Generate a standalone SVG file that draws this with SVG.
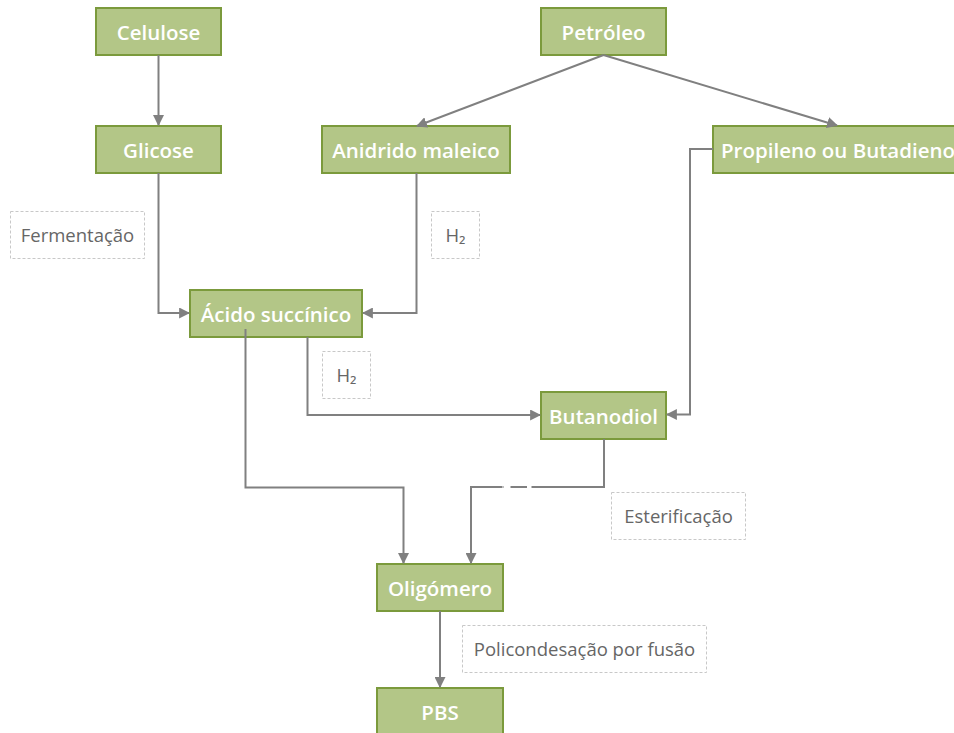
<svg xmlns="http://www.w3.org/2000/svg" width="954" height="733" viewBox="0 0 954 733">
<style>
.node rect{fill:#b3c687;stroke:#7b9a3c;stroke-width:2}
.node text{fill:#ffffff;font-family:"Open Sans","Noto Sans",sans-serif;font-weight:600;font-size:20.5px;text-anchor:middle}
.lbl rect{fill:#ffffff;stroke:#c8c8c8;stroke-width:1;stroke-dasharray:3 2}
.lbl text{fill:#666666;font-family:"Open Sans","Noto Sans",sans-serif;font-size:18.5px;text-anchor:middle}
.conn path{fill:none;stroke:#808080;stroke-width:2}
</style>
<defs>
<marker id="arr" viewBox="0 0 10 10" refX="9" refY="5" markerWidth="5.5" markerHeight="5.5" orient="auto">
<path d="M0,0 L10,5 L0,10 z" fill="#808080"/>
</marker>
</defs>
<rect width="954" height="733" fill="#ffffff"/>
<g id="labels">
<g id="lbl-fermentacao" class="lbl"><rect x="10.5" y="211.5" width="134" height="47"/><text x="77.5" y="242">Fermentação</text></g>
<g id="lbl-h2-a" class="lbl"><rect x="431.5" y="211.5" width="48" height="47"/><text x="455.5" y="242">H₂</text></g>
<g id="lbl-h2-b" class="lbl"><rect x="322.5" y="351.5" width="48" height="47"/><text x="346.5" y="382">H₂</text></g>
<g id="lbl-esterificacao" class="lbl"><rect x="611.5" y="492.5" width="134" height="47"/><text x="678.5" y="523">Esterificação</text></g>
<g id="lbl-policondesacao" class="lbl"><rect x="462.5" y="625.5" width="244" height="47"/><text x="584.5" y="656">Policondesação por fusão</text></g>
</g>
<g id="n-celulose" class="node"><rect x="96" y="8" width="125" height="47"/><text x="158.5" y="39.5">Celulose</text></g>
<g id="n-petroleo" class="node"><rect x="541" y="8" width="125" height="47"/><text x="603.5" y="39.5">Petróleo</text></g>
<g id="n-glicose" class="node"><rect x="96" y="126" width="125" height="47"/><text x="158.5" y="157.5">Glicose</text></g>
<g id="n-anidrido" class="node"><rect x="322" y="126" width="188" height="47"/><text x="416" y="157.5">Anidrido maleico</text></g>
<g id="n-propileno" class="node"><rect x="713" y="126" width="250" height="47"/><text x="838" y="157.5">Propileno ou Butadieno</text></g>
<g id="n-acido" class="node"><rect x="190" y="290" width="172" height="47"/><text x="276" y="321.5">Ácido succínico</text></g>
<g id="n-butanodiol" class="node"><rect x="541" y="392" width="125" height="47"/><text x="603.5" y="423.5">Butanodiol</text></g>
<g id="n-oligomero" class="node"><rect x="377" y="564" width="126" height="47"/><text x="440" y="595.5">Oligómero</text></g>
<g id="n-pbs" class="node"><rect x="377" y="688" width="126" height="47"/><text x="440" y="719.5">PBS</text></g>
<g id="connectors" class="conn">
<path d="M158.5,55 V125" marker-end="url(#arr)"/>
<path d="M158.5,173 V313 H189" marker-end="url(#arr)"/>
<path d="M416.5,173 V313 H363" marker-end="url(#arr)"/>
<path d="M603.5,55 L417,126" marker-end="url(#arr)"/>
<path d="M603.5,55 L837,125.5" marker-end="url(#arr)"/>
<path d="M713,149 H690 V414.5 H667" marker-end="url(#arr)"/>
<path d="M307.5,337 V415 H540" marker-end="url(#arr)"/>
<path d="M245.5,329 V487.5 H403.5 V563" marker-end="url(#arr)"/>
<path d="M604,439 V487 H531.5 M527,487 H510.5 M504,487 H503.5 M502.5,487 H471 V563" marker-end="url(#arr)"/>
<path d="M440,611 V687" marker-end="url(#arr)"/>
</g>
</svg>
